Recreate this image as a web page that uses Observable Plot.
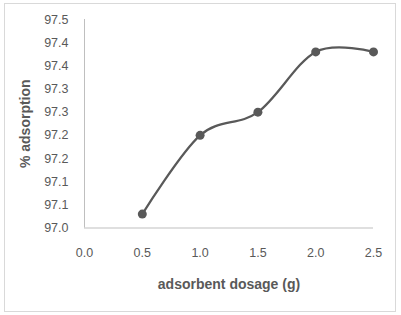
<!DOCTYPE html>
<html><head><meta charset="utf-8">
<script src="https://cdn.jsdelivr.net/npm/d3@7"></script>
<script src="https://cdn.jsdelivr.net/npm/@observablehq/plot@0.6"></script>
<style>
body{margin:0;background:#fff;}
#wrap{position:relative;width:401px;height:315px;}
#border{position:absolute;left:4px;top:3px;width:390px;height:307px;border:1px solid #d9d9d9;}
#chart{position:absolute;left:0;top:0;}
</style></head>
<body><div id="wrap"><div id="border"></div><div id="chart"></div></div>
<script>
const dosage = [0.5, 1.0, 1.5, 2.0, 2.5];
const adsorption = [97.03, 97.20, 97.25, 97.38, 97.38];
const xTicks = [0.0, 0.5, 1.0, 1.5, 2.0, 2.5];
const yTicks = [97.00, 97.05, 97.10, 97.15, 97.20, 97.25, 97.30, 97.35, 97.40, 97.45];
const xLabel = "adsorbent dosage (g)";
const yLabel = "% adsorption";

const data = dosage.map((d, i) => ({x: d, y: adsorption[i]}));
const gray = "#595959";
const fmtY = d => (Math.round(d * 10 + 1e-6) / 10).toFixed(1);

const chart = Plot.plot({
  width: 401, height: 315,
  marginLeft: 84, marginRight: 28, marginTop: 19, marginBottom: 87.5,
  style: {fontFamily: "Liberation Sans, Arial, sans-serif", fontSize: "12.5px", color: gray, background: "transparent"},
  x: {domain: [0, 2.5]},
  y: {domain: [97.0, 97.45]},
  marks: [
    Plot.ruleX([0], {stroke: "#bfbfbf", strokeWidth: 1}),
    Plot.ruleY([97.0], {stroke: "#bfbfbf", strokeWidth: 1}),
    Plot.axisX({ticks: xTicks, tickSize: 0, tickPadding: 20, tickFormat: d => d.toFixed(1), label: null, fill: gray}),
    Plot.axisY({ticks: yTicks, tickSize: 0, tickPadding: 16, tickFormat: fmtY, label: null, fill: gray}),
    Plot.line(data, {x: "x", y: "y", curve: "cardinal", tension: 0, stroke: gray, strokeWidth: 2.25}),
    Plot.dot(data, {x: "x", y: "y", r: 4.5, fill: gray, stroke: "none"}),
    Plot.text([xLabel], {frameAnchor: "bottom", textAnchor: "middle", dy: 61, fill: gray, fontWeight: "bold", fontSize: 14}),
    Plot.text([yLabel], {frameAnchor: "left", textAnchor: "middle", dx: -59, rotate: -90, fill: gray, fontWeight: "bold", fontSize: 14})
  ]
});
document.getElementById("chart").appendChild(chart);
</script></body></html>
